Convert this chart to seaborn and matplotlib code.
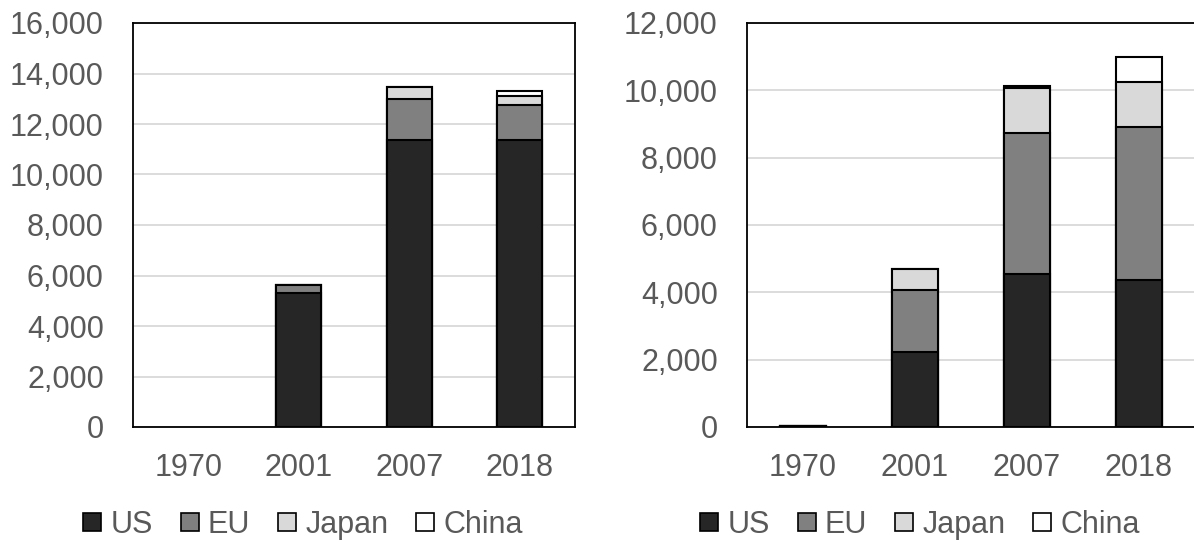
import matplotlib
matplotlib.use("Agg")
import matplotlib.pyplot as plt
import seaborn as sns
import pandas as pd
import numpy as np
from matplotlib.lines import Line2D

sns.set_style("white")
plt.rcParams['font.family'] = ['Liberation Sans', 'DejaVu Sans']

years = ["1970", "2001", "2007", "2018"]
series = ["US", "EU", "Japan", "China"]
colors = ["#262626", "#808080", "#d9d9d9", "#ffffff"]

left_us = [0, 5300, 11350, 11350]
left_eu = [0, 330, 1640, 1420]
left_japan = [0, 0, 460, 330]
left_china = [0, 0, 0, 210]

right_us = [25, 2240, 4540, 4370]
right_eu = [0, 1830, 4200, 4530]
right_japan = [0, 620, 1320, 1350]
right_china = [0, 0, 80, 740]

left_ticks = [0, 2000, 4000, 6000, 8000, 10000, 12000, 14000, 16000]
right_ticks = [0, 2000, 4000, 6000, 8000, 10000, 12000]

W, H = 1194, 543
FS = 22
fig = plt.figure(figsize=(W / 100, H / 100), dpi=100)

def draw(ax, vals, ticks, legend_x):
    cum = np.zeros(len(years))
    cums = []
    for v in vals:
        cum = cum + np.array(v, dtype=float)
        cums.append(cum.copy())
    total = cums[-1]
    for i in reversed(range(len(series))):
        y = np.where(total > 0, cums[i], np.nan)
        d = pd.DataFrame({"year": years, "val": y})
        sns.barplot(data=d, x="year", y="val", order=years, ax=ax, color=colors[i],
                    saturation=1, width=0.41, edgecolor="black", linewidth=1.5,
                    errorbar=None, zorder=3)
    ax.set_xlim(-0.5, 3.5)
    ax.set_ylim(0, ticks[-1])
    ax.set_yticks(ticks)
    ax.set_yticklabels([f"{t:,}" for t in ticks])
    ax.set_xlabel("")
    ax.set_ylabel("")
    ax.yaxis.grid(True, color="#d9d9d9", linewidth=1.3, zorder=0)
    ax.set_axisbelow(True)
    ax.tick_params(axis="both", length=0, labelsize=FS, colors="#595959")
    ax.tick_params(axis="y", pad=21)
    ax.tick_params(axis="x", pad=19)
    for s in ax.spines.values():
        s.set_visible(True)
        s.set_color("black")
        s.set_linewidth(1.3)
    handles = [Line2D([], [], marker="s", linestyle="none", markersize=12.5,
                      markerfacecolor=c, markeredgecolor="black", markeredgewidth=1.2)
               for c in colors]
    fig.legend(handles, series, loc="center", bbox_to_anchor=(legend_x / W, 1 - 525 / H),
               ncol=4, frameon=False, fontsize=FS, labelcolor="#595959",
               handlelength=0.6, handletextpad=0.3, columnspacing=0.9)

ax1 = fig.add_axes([133 / W, (H - 427) / H, 442 / W, 404 / H])
draw(ax1, [left_us, left_eu, left_japan, left_china], left_ticks, 303)
ax2 = fig.add_axes([747 / W, (H - 427) / H, 448 / W, 404 / H])
draw(ax2, [right_us, right_eu, right_japan, right_china], right_ticks, 920)

fig.savefig("out.png", dpi=100)
